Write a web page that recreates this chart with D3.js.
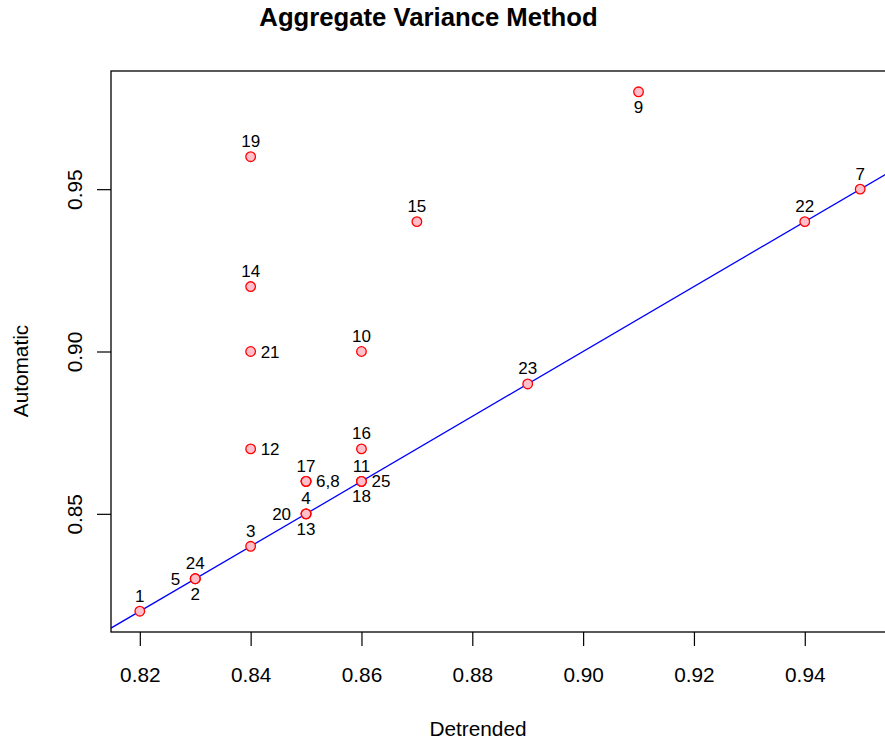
<!DOCTYPE html>
<html>
<head>
<meta charset="utf-8">
<script src="https://cdn.jsdelivr.net/npm/d3@7"></script>
<style>
  body { margin: 0; background: #fff; }
  text { font-family: "Liberation Sans", Arial, Helvetica, sans-serif; fill: #000; }
</style>
</head>
<body>
<div id="chart"></div>
<script>
// data: one entry per series id (1..25)
const detrended = [0.82, 0.83, 0.84, 0.85, 0.83, 0.85, 0.95, 0.85, 0.91, 0.86,
                   0.86, 0.84, 0.85, 0.84, 0.87, 0.86, 0.85, 0.86, 0.84, 0.85,
                   0.84, 0.94, 0.89, 0.83, 0.86];
const automatic = [0.82, 0.83, 0.84, 0.85, 0.83, 0.86, 0.95, 0.86, 0.98, 0.90,
                   0.86, 0.87, 0.85, 0.92, 0.94, 0.87, 0.86, 0.86, 0.96, 0.85,
                   0.90, 0.94, 0.89, 0.83, 0.86];
const pointLabels = ["1", "2", "3", "4", "5", "6,8", "7", "", "9", "10",
                     "11", "12", "13", "14", "15", "16", "17", "18", "19", "20",
                     "21", "22", "23", "24", "25"];
// 1 = below, 2 = left, 3 = above, 4 = right (like R's text pos)
const labelPos = [3, 1, 3, 3, 2, 4, 3, 3, 1, 3,
                  3, 4, 1, 3, 3, 3, 3, 1, 3, 2,
                  4, 3, 3, 3, 4];
const xTicks = [0.82, 0.84, 0.86, 0.88, 0.90, 0.92, 0.94];
const yTicks = [0.85, 0.90, 0.95];

const W = 885, H = 740;
const PLOT = { left: 111, right: 889, top: 71, bottom: 632 };

const points = detrended.map((d, i) => ({
  x: d, y: automatic[i], label: pointLabels[i], pos: labelPos[i]
}));

const svg = d3.select("#chart").append("svg")
  .attr("width", W).attr("height", H);

// R-style 4% padding on both axes
const xr = d3.extent(detrended), yr = d3.extent(automatic);
const xPad = (xr[1] - xr[0]) * 0.04, yPad = (yr[1] - yr[0]) * 0.04;
const x = d3.scaleLinear().domain([xr[0] - xPad, xr[1] + xPad]).range([PLOT.left, PLOT.right]);
const y = d3.scaleLinear().domain([yr[0] - yPad, yr[1] + yPad]).range([PLOT.bottom, PLOT.top]);

svg.append("defs").append("clipPath").attr("id", "clip")
  .append("rect")
  .attr("x", PLOT.left).attr("y", PLOT.top)
  .attr("width", PLOT.right - PLOT.left).attr("height", PLOT.bottom - PLOT.top);

// title
svg.append("text")
  .attr("x", 428.5).attr("y", 26)
  .attr("text-anchor", "middle")
  .style("font-size", "25.7px").style("font-weight", "bold")
  .text("Aggregate Variance Method");

// axes
const xAxis = svg.append("g")
  .attr("transform", `translate(0,${PLOT.bottom})`)
  .call(d3.axisBottom(x).tickValues(xTicks).tickFormat(d3.format(".2f")).tickSize(14).tickPadding(21));
const yAxis = svg.append("g")
  .attr("transform", `translate(${PLOT.left},0)`)
  .call(d3.axisLeft(y).tickValues(yTicks).tickFormat(d3.format(".2f")).tickSize(14));

[xAxis, yAxis].forEach((g) => {
  g.select(".domain").remove();
  g.selectAll("line").attr("stroke", "#000").attr("stroke-width", 1.2);
  g.selectAll("text").style("font-size", "20.8px").attr("fill", "#000")
    .style("font-family", "'Liberation Sans', Arial, sans-serif");
});
xAxis.selectAll("text").attr("dy", "0.71em");
// rotated y tick labels, like R's default las = 0
yAxis.selectAll("text")
  .attr("x", 0).attr("y", 0).attr("dy", null)
  .attr("text-anchor", "middle")
  .attr("transform", `translate(${82 - PLOT.left},0) rotate(-90)`);

// axis titles
svg.append("text")
  .attr("x", 478).attr("y", 736)
  .attr("text-anchor", "middle")
  .style("font-size", "20.8px")
  .text("Detrended");
svg.append("text")
  .attr("transform", "translate(28,371) rotate(-90)")
  .attr("text-anchor", "middle")
  .style("font-size", "20.8px")
  .text("Automatic");

// y = x reference line
const lineDom = x.domain();
svg.append("line")
  .attr("clip-path", "url(#clip)")
  .attr("x1", x(lineDom[0])).attr("y1", y(lineDom[0]))
  .attr("x2", x(lineDom[1])).attr("y2", y(lineDom[1]))
  .attr("stroke", "#0000ff").attr("stroke-width", 1.3);

// points
svg.append("g").selectAll("circle")
  .data(points)
  .enter()
  .append("circle")
  .attr("cx", (d) => x(d.x))
  .attr("cy", (d) => y(d.y))
  .attr("r", 4.8)
  .attr("fill", "pink")
  .attr("stroke", "#ff0000")
  .attr("stroke-width", 1.3);

// point labels
svg.append("g").selectAll("text")
  .data(points.filter((d) => d.label !== ""))
  .enter()
  .append("text")
  .style("font-size", "17px")
  .attr("x", (d) => x(d.x) + (d.pos === 2 ? -15 : d.pos === 4 ? 10 : 0))
  .attr("y", (d) => y(d.y) + (d.pos === 3 ? -9.5 : d.pos === 1 ? 21 : 6))
  .attr("text-anchor", (d) => d.pos === 2 ? "end" : d.pos === 4 ? "start" : "middle")
  .text((d) => d.label);

// box
svg.append("rect")
  .attr("x", PLOT.left).attr("y", PLOT.top)
  .attr("width", PLOT.right - PLOT.left).attr("height", PLOT.bottom - PLOT.top)
  .attr("fill", "none").attr("stroke", "#000").attr("stroke-width", 1.3);
</script>
</body>
</html>
